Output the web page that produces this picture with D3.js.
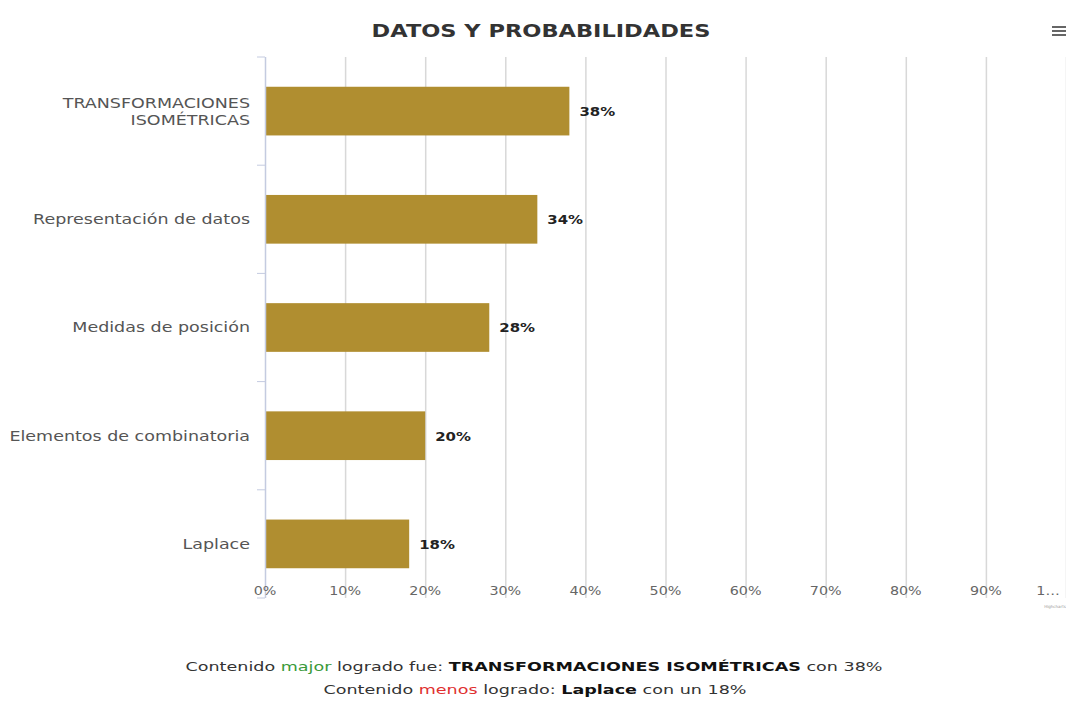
<!DOCTYPE html>
<html><head><meta charset="utf-8">
<script src="https://cdn.jsdelivr.net/npm/d3@7"></script>
<style>body{margin:0;background:#fff;font-family:"DejaVu Sans",Verdana,sans-serif;}</style>
</head><body>
<svg id="c" width="1066" height="706"></svg>
<script>
const categories = [["TRANSFORMACIONES","ISOMÉTRICAS"],["Representación de datos"],["Medidas de posición"],["Elementos de combinatoria"],["Laplace"]];
const values = [38, 34, 28, 20, 18];
const xTicks = [0,10,20,30,40,50,60,70,80,90,100];
const title = "DATOS Y PROBABILIDADES";

const svg = d3.select("#c");
const pL = 265, pR = 1066, pT = 57, pB = 598;
const SX = 1.25;
function stretch(sel, sx){
  sel.each(function(){
    const t = d3.select(this), xx = +t.attr("x"), yy = +t.attr("y");
    t.attr("transform", `translate(${xx},${yy}) scale(${sx},1) translate(${-xx},${-yy})`);
  });
  return sel;
}
const x = d3.scaleLinear().domain([0,100]).range([pL,pR]);
const y = d3.scaleBand().domain(d3.range(categories.length)).range([pT,pB]).paddingInner(0.55).paddingOuter(0.275);

// gridlines
svg.append("g").selectAll("line").data(xTicks.filter(t=>t>0)).join("line")
  .attr("x1",d=>x(d)+0.5).attr("x2",d=>x(d)+0.5).attr("y1",pT).attr("y2",pB)
  .attr("stroke","#d8d8d8").attr("stroke-width",1.5);

// bars
svg.append("g").selectAll("rect").data(values).join("rect")
  .attr("x",x(0)).attr("y",(d,i)=>y(i)).attr("width",d=>x(d)-x(0)).attr("height",y.bandwidth())
  .attr("fill","#b08e30");

// y axis line & ticks
svg.append("line").attr("x1",pL+0.5).attr("x2",pL+0.5).attr("y1",pT).attr("y2",pB).attr("stroke","#c4cbe0").attr("stroke-width",1.5);
const step = (pB-pT)/categories.length;
svg.append("g").selectAll("line").data(d3.range(categories.length+1)).join("line")
  .attr("x1",pL-8).attr("x2",pL).attr("y1",d=>pT+d*step).attr("y2",d=>pT+d*step)
  .attr("stroke","#c4cbe0").attr("stroke-width",1);

// category labels
const cl = svg.append("g").selectAll("text").data(categories).join("text")
  .attr("x",pL-15).attr("text-anchor","end").attr("fill","#555").attr("font-size",14)
  .attr("y",(d,i)=>y(i)+y.bandwidth()/2 - (d.length-1)*8.5 + 5);
cl.selectAll("tspan").data(d=>d).join("tspan").attr("x",pL-15).attr("dy",(d,i)=>i?17:0).text(d=>d);
stretch(cl, SX);

// value labels
stretch(svg.append("g").selectAll("text").data(values).join("text")
  .attr("x",d=>x(d)+10).attr("y",(d,i)=>y(i)+y.bandwidth()/2+5)
  .attr("font-size",13).attr("font-weight","bold").attr("fill","#222")
  .text(d=>d+"%"), 1.15);

// x tick labels
stretch(svg.append("g").selectAll("text").data(xTicks).join("text")
  .attr("x",d=>d===100?1048:x(d)).attr("y",595).attr("text-anchor","middle")
  .attr("font-size",13).attr("fill","#666")
  .text(d=>d===100?"1…":d+"%"), 1.1);
svg.append("text").attr("x",1055).attr("y",608).attr("text-anchor","middle").attr("font-size",4).attr("fill","#999").text("Highcharts");

// title
stretch(svg.append("text").attr("x",541).attr("y",37).attr("text-anchor","middle")
  .attr("font-size",18).attr("font-weight","bold").attr("fill","#333").text(title), 1.25);
// menu icon
svg.append("g").selectAll("rect").data([0,1,2]).join("rect")
  .attr("x",1052).attr("y",d=>26+d*4).attr("width",14).attr("height",2).attr("fill","#666");

// footer
const f1 = svg.append("text").attr("x",534).attr("y",671).attr("text-anchor","middle").attr("font-size",13).attr("fill","#333");
f1.append("tspan").text("Contenido ");
f1.append("tspan").attr("fill","#3a9a3a").text("major");
f1.append("tspan").text(" logrado fue: ");
f1.append("tspan").attr("font-weight","bold").attr("fill","#111").text("TRANSFORMACIONES ISOMÉTRICAS");
f1.append("tspan").text(" con ");
f1.append("tspan").text(values[0]+"%");
const f2 = svg.append("text").attr("x",535).attr("y",694).attr("text-anchor","middle").attr("font-size",13).attr("fill","#333");
f2.append("tspan").text("Contenido ");
f2.append("tspan").attr("fill","#e03030").text("menos");
f2.append("tspan").text(" logrado: ");
f2.append("tspan").attr("font-weight","bold").attr("fill","#111").text("Laplace");
f2.append("tspan").text(" con un ");
f2.append("tspan").text(values[4]+"%");
stretch(f1, 1.35); stretch(f2, 1.35);
</script>
</body></html>
